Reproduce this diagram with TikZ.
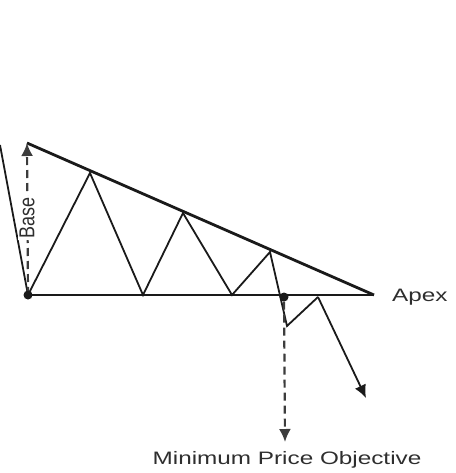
\documentclass[tikz,border=0pt]{standalone}
\usepackage{fontspec}
\setmainfont{Liberation Sans}
\usetikzlibrary{arrows.meta}
\definecolor{ink}{HTML}{1A1A1A}
\definecolor{txt}{HTML}{2E2E2E}
\tikzset{
  mainline/.style={draw=ink, line width=2.8pt},
  zig/.style={draw=ink, line width=1.8pt, line join=miter},
  dashline/.style={draw=ink!85, line width=2.2pt, dash pattern=on 8pt off 5pt},
  tip/.style={-{Latex[length=13pt,width=12pt]}},
  dotnode/.style={circle, fill=ink, inner sep=0pt, minimum size=9pt},
  lbl/.style={text=txt, font=\fontsize{18}{21}\selectfont, inner sep=1pt}
}
\begin{document}
\begin{tikzpicture}[x=1pt,y=-1pt]
\useasboundingbox (0,0) rectangle (455,473);
% key coordinates
\coordinate (in) at (0,145);
\coordinate (B) at (28,295);
\coordinate (T) at (27,143);
\coordinate (A) at (374,295);
\coordinate (p1) at (90,173);
\coordinate (v1) at (143,295);
\coordinate (p2) at (183,213);
\coordinate (v2) at (232,295);
\coordinate (p3) at (270,252);
\coordinate (v3) at (287,326);
\coordinate (p4) at (318,297);
\coordinate (e) at (366,398);
\coordinate (m) at (285,442);
% incoming line
\draw[zig] (in) -- (B);
% triangle lines
\draw[mainline] (T) -- (A);
\draw[mainline] (B) -- (A);
% zigzag
\draw[zig] (B) -- (p1) -- (v1) -- (p2) -- (v2) -- (p3) -- (v3) -- (p4);
\draw[zig, tip] (p4) -- (e);
% base measure
\draw[dashline, tip] (B) -- (T);
\node[fill=white, inner sep=1pt, rotate=90, text=txt, font=\fontsize{18}{21}\selectfont] (base) at (27,218) {\scalebox{1}[1.2]{Base}};
% breakout dot
\node[dotnode] (bd) at (284,297) {};
\node[dotnode] (bl) at (B) {};
% minimum price objective
\draw[dashline, tip] (bd) -- (m);
\node[lbl, anchor=north] (mpo) at (287,450) {\scalebox{1.35}[1]{Minimum Price Objective}};
\node[lbl, anchor=west] (apex) at (391,297) {\scalebox{1.35}[1]{Apex}};
\end{tikzpicture}
\end{document}
